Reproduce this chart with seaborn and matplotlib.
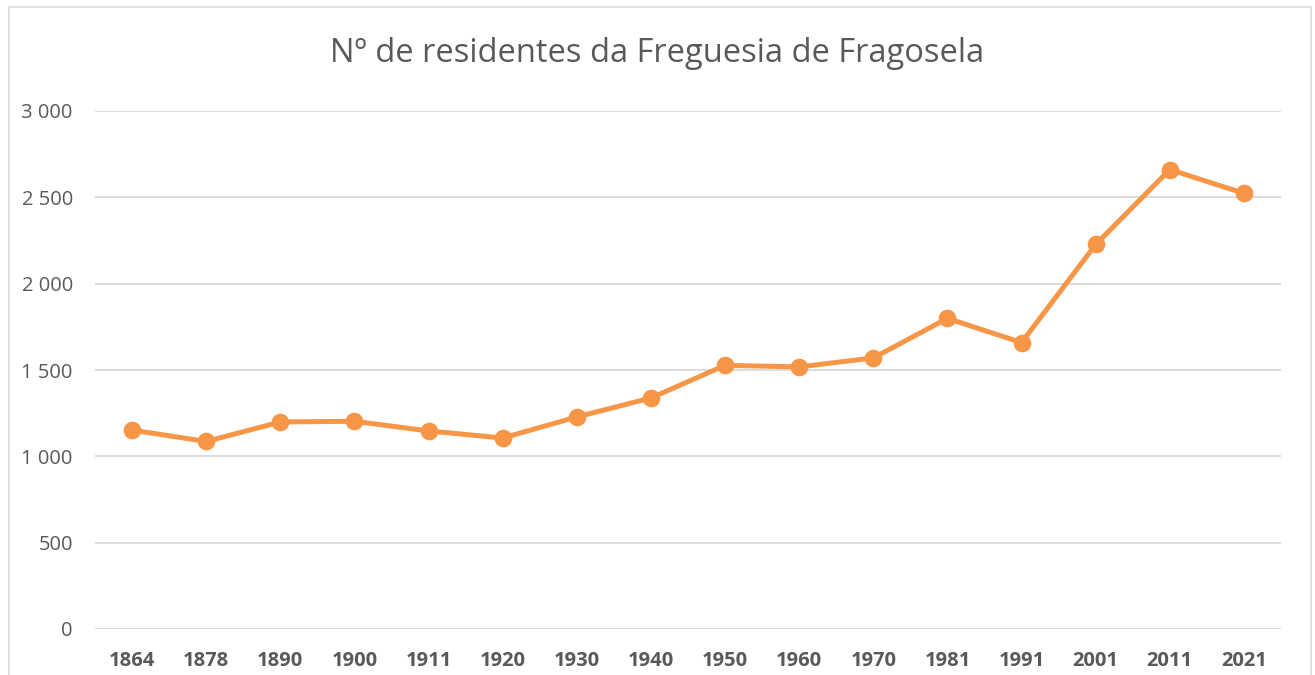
import matplotlib
matplotlib.use("Agg")
import matplotlib.pyplot as plt
import seaborn as sns
import pandas as pd
from matplotlib.patches import Rectangle
from matplotlib.ticker import FuncFormatter, MultipleLocator

years = ["1864", "1878", "1890", "1900", "1911", "1920", "1930", "1940",
         "1950", "1960", "1970", "1981", "1991", "2001", "2011", "2021"]
residents = [1152, 1086, 1199, 1203, 1147, 1106, 1228, 1338,
             1527, 1518, 1570, 1799, 1659, 2227, 2661, 2523]
title = "Nº de residentes da Freguesia de Fragosela"

df = pd.DataFrame({"ano": years, "residentes": residents})

sns.set_theme(style="white")
plt.rcParams["font.family"] = ["Open Sans", "DejaVu Sans"]

fig = plt.figure(figsize=(13.15, 6.75), dpi=100)
ax = fig.add_axes([95 / 1315, 1 - 629 / 675, (1281 - 95) / 1315, (629 - 111) / 675])

sns.pointplot(data=df, x="ano", y="residentes", color="#F79646",
              markers="o", markersize=10, linewidth=3.6, ax=ax, errorbar=None)

ax.set_ylim(0, 3000)
ax.set_xlim(-0.5, len(years) - 0.5)
ax.yaxis.set_major_locator(MultipleLocator(500))
ax.yaxis.set_major_formatter(FuncFormatter(lambda v, p: f"{int(v):,}".replace(",", " ")))
ax.grid(axis="y", color="#d9d9d9", linewidth=1.3)
ax.set_axisbelow(True)
for s in ax.spines.values():
    s.set_visible(False)
ax.set_xlabel("")
ax.set_ylabel("")
ax.tick_params(axis="y", length=0, pad=16, labelsize=14.5, labelcolor="#595959")
ax.tick_params(axis="x", length=0, pad=16, labelsize=14.5, labelcolor="#595959")
for lab in ax.get_xticklabels():
    lab.set_fontweight("bold")

fig.text(0.5, 1 - 53 / 675, title, ha="center", va="center",
         fontsize=23.5, color="#595959")

fig.patches.append(Rectangle((9 / 1315, -0.05), (1311 - 9) / 1315, 1.05 - 7 / 675,
                             transform=fig.transFigure, fill=False,
                             edgecolor="#d9d9d9", linewidth=1.2))

fig.savefig("out.png", dpi=100, facecolor="white")
